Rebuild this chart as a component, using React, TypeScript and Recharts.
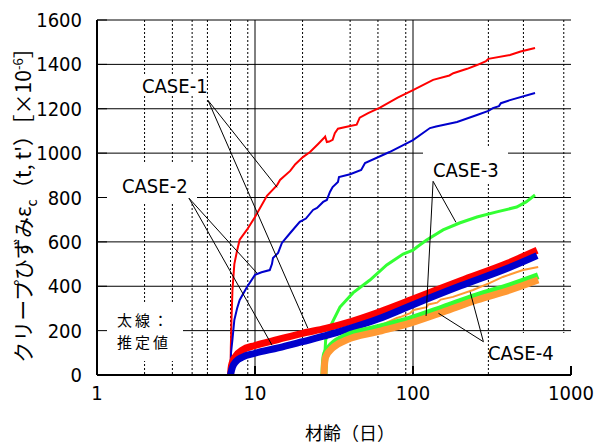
import React from "react";
import { LineChart, Line, XAxis, YAxis, CartesianGrid, ReferenceLine } from "recharts";

// 材齢 t [日] と クリープひずみ [×10^-6]
const case1Measured: [number, number][] = [
  [7, 0], [7.03, 120], [7.1, 250], [7.2, 383], [7.4, 500], [7.7, 560], [8.0, 610], [8.9, 655],
  [10, 712], [11.9, 808], [13.8, 856], [14.4, 879], [16.7, 920], [18, 950], [20.1, 982], [22.3, 1005],
  [25, 1040], [27.3, 1068], [27.8, 1075], [28.5, 1050], [29.5, 1052], [31, 1060], [32, 1090],
  [33.5, 1110], [40, 1122], [44, 1128], [46, 1160], [52, 1180], [61.8, 1205], [80, 1250],
  [100, 1284], [134, 1330], [170, 1350], [180, 1360], [220, 1380], [254, 1397], [290, 1415],
  [300, 1425], [411, 1442], [480, 1458], [592, 1474],
];
const case2Measured: [number, number][] = [
  [7, 0], [7.05, 100], [7.2, 160], [7.4, 248], [7.7, 300], [8.0, 338], [8.9, 397], [10, 451],
  [11, 463], [12.4, 473], [12.8, 500], [13, 527], [14, 550], [14.8, 595], [16.7, 640], [19.2, 690],
  [21, 705], [23.3, 744], [24.7, 753], [27, 780], [28.5, 789], [29.8, 825], [31, 847], [33.5, 870],
  [34, 892], [40, 905], [47, 924], [49.7, 955], [71, 1005], [100, 1059], [128, 1113], [140, 1120],
  [190, 1140], [254, 1172], [300, 1190], [320, 1203], [350, 1212], [360, 1225], [411, 1239], [592, 1271],
];
const case3Measured: [number, number][] = [
  [27.3, 0], [27.6, 80], [28, 158], [30.7, 234], [34.5, 306], [41.7, 370], [53.4, 428], [68.2, 496],
  [86.6, 545], [100, 563], [106, 577], [122, 608], [155, 654], [197, 685], [254, 712], [339, 735],
  [453, 757], [520, 780], [592, 811],
];
const case4Measured: [number, number][] = [
  [27.3, 0], [27.6, 60], [28.5, 100], [31, 130], [34.5, 150], [41.7, 170], [59, 216], [79, 257],
  [83, 261], [96, 279], [101, 293], [122, 306], [125, 318], [142, 326], [150, 340], [179, 352],
  [240, 383], [307, 415], [370, 442], [497, 473], [620, 487],
];
// 太線：推定値
const case1Estimated: [number, number][] = [
  [7, 0], [7.05, 28], [7.2, 58], [7.6, 88], [8.3, 112], [10, 133], [14, 160], [20, 188], [28, 210],
  [40, 240], [60, 282], [100, 342], [200, 425], [400, 505], [610, 562],
];
const case2Estimated: [number, number][] = [
  [7, 0], [7.05, 12], [7.2, 35], [7.6, 62], [8.3, 80], [10, 98], [14, 122], [20, 150], [28, 177],
  [40, 210], [60, 252], [100, 317], [200, 402], [400, 482], [610, 538],
];
const case3Estimated: [number, number][] = [
  [27.3, 0], [27.5, 50], [28, 95], [31, 138], [38, 175], [59, 212], [96, 252], [155, 303],
  [254, 357], [411, 402], [620, 447],
];
const case4Estimated: [number, number][] = [
  [27.3, 0], [27.5, 40], [28, 81], [31, 122], [38, 158], [59, 194], [96, 234], [155, 284],
  [254, 338], [411, 383], [620, 428],
];

const xTicks = [1, 10, 100, 1000];
const xMinor = [2, 3, 4, 5, 6, 7, 8, 9, 20, 30, 40, 50, 60, 70, 80, 90, 200, 300, 400, 500, 600, 700, 800, 900];
const yTicks = [0, 200, 400, 600, 800, 1000, 1200, 1400, 1600];

// 引出線 [起点, 終点]
const leaders: [[number, number], [number, number]][] = [
  [[5.04, 1238], [13.8, 846]],
  [[5.04, 1238], [21.6, 211]],
  [[3.82, 797], [10.3, 459]],
  [[3.82, 797], [12.8, 135]],
  [[134, 873], [187, 688]],
  [[134, 873], [121, 266]],
  [[279, 150], [230, 375]],
  [[279, 150], [145, 278]],
];

const toRows = (a: [number, number][]) => a.map(([t, v]) => ({ t, v }));

const latin = "'Liberation Sans Narrow', 'DejaVu Sans Condensed', 'Liberation Sans', sans-serif";
const jp = "'Noto Sans CJK JP', sans-serif";

function Labels() {
  return (
    <g>
      <rect x={140} y={76} width={66} height={20} fill="#fff" />
      <rect x={98} y={163} width={99} height={40} fill="#fff" />
      <rect x={98} y={302} width={85} height={59} fill="#fff" />
      <rect x={423} y={147} width={85} height={37} fill="#fff" />
      <rect x={512} y={333} width={58} height={41} fill="#fff" />
      <g fontFamily={latin} fontSize={20} fill="#000">
        <text x={142} y={93}>CASE-1</text>
        <text x={122} y={193}>CASE-2</text>
        <text x={433} y={177}>CASE-3</text>
        <text x={488} y={360}>CASE-4</text>
      </g>
      <g fontFamily={jp} fontSize={15} letterSpacing={3} fill="#000">
        <text x={117} y={326}>太線：</text>
        <text x={117} y={348}>推定値</text>
      </g>
    </g>
  );
}

function AxisTitles() {
  return (
    <g fontFamily={jp} fill="#000">
      <text x={350} y={440} fontSize={18} textAnchor="middle">材齢（日）</text>
      <text x={31} y={200} fontSize={21} textAnchor="middle" transform="rotate(-90 31 200)">
        クリープひずみε<tspan dy={6} fontSize={14}>c</tspan>
        <tspan dy={-6}>（t, t'）［×10</tspan>
        <tspan dy={-8} fontSize={13}>-6</tspan>
        <tspan dy={8}>］</tspan>
      </text>
    </g>
  );
}

export default function App() {
  const tickStyle = { fontSize: 20, fill: "#000", fontFamily: latin };
  return (
    <div style={{ position: "absolute", left: 0, top: 0, width: 595, height: 447, background: "#fff" }}>
      <LineChart width={595} height={447} margin={{ top: 20, right: 24, bottom: 0, left: 0 }}>
        <CartesianGrid horizontalValues={yTicks} verticalValues={[10, 100]} stroke="#000" />
        <CartesianGrid horizontal={false} verticalValues={xMinor} stroke="#000" strokeDasharray="2 2" />
        <Labels />
        <AxisTitles />
        <XAxis
          type="number"
          dataKey="t"
          scale="log"
          domain={[1, 1000]}
          ticks={xTicks}
          height={72}
          tickSize={-9}
          tickMargin={20}
          tick={tickStyle}
          axisLine={{ stroke: "#000", strokeWidth: 2 }}
          tickLine={{ stroke: "#000", strokeWidth: 2 }}
          allowDataOverflow
        />
        <XAxis
          xAxisId="top"
          orientation="top"
          type="number"
          dataKey="t"
          scale="log"
          domain={[1, 1000]}
          ticks={[10, 100]}
          height={0}
          tickSize={-9}
          tick={false}
          axisLine={{ stroke: "#000", strokeWidth: 2 }}
          tickLine={{ stroke: "#000", strokeWidth: 2 }}
          allowDataOverflow
        />
        <YAxis
          type="number"
          domain={[0, 1600]}
          ticks={yTicks}
          width={97}
          tickSize={-10}
          tickMargin={25}
          tick={tickStyle}
          axisLine={{ stroke: "#000", strokeWidth: 2 }}
          tickLine={{ stroke: "#000", strokeWidth: 1 }}
        />
        <YAxis
          yAxisId="right"
          orientation="right"
          type="number"
          domain={[0, 1600]}
          ticks={yTicks}
          width={0}
          tickSize={-8}
          tick={false}
          axisLine={{ stroke: "#000", strokeWidth: 2 }}
          tickLine={{ stroke: "#000", strokeWidth: 1 }}
        />
        <Line data={toRows(case1Measured)} dataKey="v" stroke="#ff0000" strokeWidth={2} dot={false} isAnimationActive={false} />
        <Line data={toRows(case2Measured)} dataKey="v" stroke="#0000cc" strokeWidth={2} dot={false} isAnimationActive={false} />
        <Line data={toRows(case3Measured)} dataKey="v" stroke="#33ff33" strokeWidth={3} dot={false} isAnimationActive={false} />
        <Line data={toRows(case4Measured)} dataKey="v" stroke="#ff9933" strokeWidth={2} dot={false} isAnimationActive={false} />
        <Line data={toRows(case1Estimated)} dataKey="v" type="monotone" stroke="#ff0000" strokeWidth={7} dot={false} isAnimationActive={false} />
        <Line data={toRows(case2Estimated)} dataKey="v" type="monotone" stroke="#0000cc" strokeWidth={7} dot={false} isAnimationActive={false} />
        <Line data={toRows(case3Estimated)} dataKey="v" type="monotone" stroke="#33ff33" strokeWidth={7} dot={false} isAnimationActive={false} />
        <Line data={toRows(case4Estimated)} dataKey="v" type="monotone" stroke="#ff9933" strokeWidth={7} dot={false} isAnimationActive={false} />
        {leaders.map(([[x1, y1], [x2, y2]], i) => (
          <ReferenceLine
            key={i}
            segment={[{ x: x1, y: y1 }, { x: x2, y: y2 }]}
            stroke="#000"
            strokeWidth={1}
            ifOverflow="visible"
          />
        ))}
      </LineChart>
    </div>
  );
}
